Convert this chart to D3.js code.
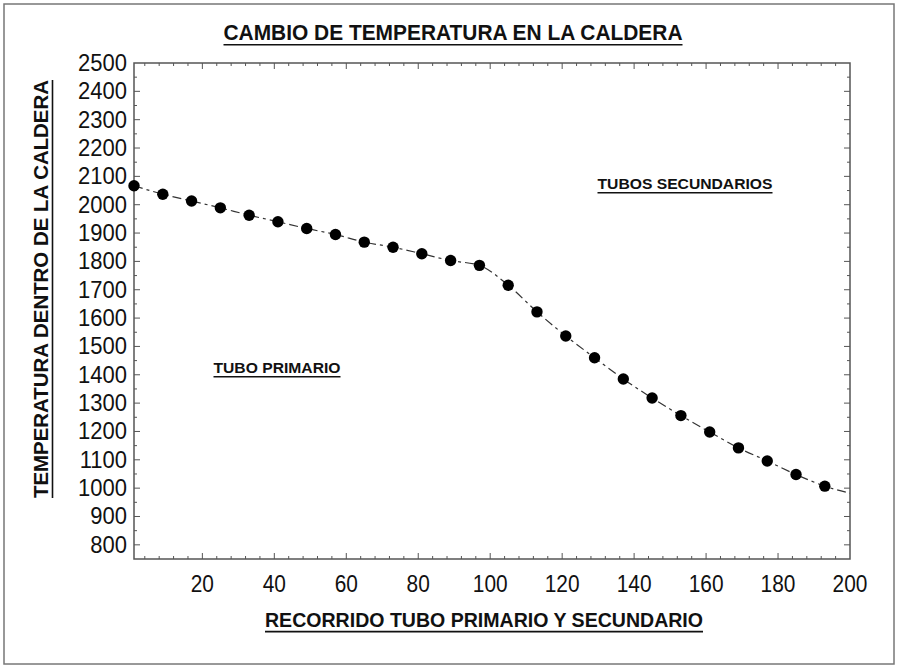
<!DOCTYPE html>
<html>
<head>
<meta charset="utf-8">
<script src="https://cdn.jsdelivr.net/npm/d3@7"></script>
<style>
  html, body { margin: 0; padding: 0; background: #fff; }
  svg { display: block; }
  text { font-family: "Liberation Sans", Arial, sans-serif; fill: #111; }
</style>
</head>
<body>
<svg id="chart" width="898" height="668"></svg>
<script>
// Recorrido (posición a lo largo del tubo) y temperatura medida
const recorrido = [1, 9, 17, 25, 33, 41, 49, 57, 65, 73, 81, 89, 97,
                   105, 113, 121, 129, 137, 145, 153, 161, 169, 177, 185, 193];
const temperatura = [2067, 2037, 2013, 1989, 1963, 1940, 1916, 1895, 1868, 1850, 1827, 1803, 1786,
                     1716, 1622, 1537, 1460, 1385, 1318, 1256, 1198, 1142, 1096, 1048, 1007];
// Extremo de la curva ajustada en el borde derecho
const curvaFinX = [200];
const curvaFinY = [982];

const xTicks = [20, 40, 60, 80, 100, 120, 140, 160, 180, 200];
const yTicks = [800, 900, 1000, 1100, 1200, 1300, 1400, 1500, 1600, 1700, 1800,
                1900, 2000, 2100, 2200, 2300, 2400, 2500];

const titulo = "CAMBIO DE TEMPERATURA EN LA CALDERA";
const tituloX = "RECORRIDO TUBO PRIMARIO Y SECUNDARIO";
const tituloY = "TEMPERATURA DENTRO DE LA CALDERA";
const notaPrimario = "TUBO PRIMARIO";
const notaSecundarios = "TUBOS SECUNDARIOS";

const svg = d3.select("#chart");
const W = 898, H = 668;
const plot = { left: 134, right: 850, top: 63, bottom: 559 };

// Marco exterior
svg.append("rect")
  .attr("x", 4).attr("y", 4).attr("width", W - 8).attr("height", H - 8)
  .attr("fill", "#fff").attr("stroke", "#777").attr("stroke-width", 1.5);

const x = d3.scaleLinear().domain([1, 200]).range([plot.left, plot.right]);
const y = d3.scaleLinear().domain([750, 2500]).range([plot.bottom, plot.top]);

// Marco del área de trazado
svg.append("rect")
  .attr("x", plot.left).attr("y", plot.top)
  .attr("width", plot.right - plot.left).attr("height", plot.bottom - plot.top)
  .attr("fill", "none").attr("stroke", "#555").attr("stroke-width", 1.5);

// Marcas hacia dentro en los cuatro lados
const xMinor = d3.range(4, 200, 4);
const yMinor = d3.range(800, 2500, 50);
const g = svg.append("g").attr("stroke", "#555").attr("stroke-width", 1);
xMinor.forEach(v => {
  const len = v % 20 === 0 ? 6 : 3;
  g.append("line").attr("x1", x(v)).attr("x2", x(v))
    .attr("y1", plot.bottom).attr("y2", plot.bottom - len);
  g.append("line").attr("x1", x(v)).attr("x2", x(v))
    .attr("y1", plot.top).attr("y2", plot.top + len);
});
yMinor.forEach(v => {
  const len = v % 100 === 0 ? 6 : 3;
  g.append("line").attr("y1", y(v)).attr("y2", y(v))
    .attr("x1", plot.left).attr("x2", plot.left + len);
  g.append("line").attr("y1", y(v)).attr("y2", y(v))
    .attr("x1", plot.right).attr("x2", plot.right - len);
});

// Etiquetas de los ejes (ligeramente estrechas y altas)
svg.append("g").selectAll("text").data(xTicks).join("text")
  .attr("transform", d => `translate(${x(d)},592) scale(0.95,1.08)`)
  .attr("text-anchor", "middle").attr("font-size", 22)
  .text(d => d);

svg.append("g").selectAll("text").data(yTicks).join("text")
  .attr("transform", d => `translate(${plot.left - 7},${y(d) + 8}) scale(1,1.08)`)
  .attr("text-anchor", "end").attr("font-size", 22)
  .text(d => d);

// Texto subrayado en negrita
function underlined(parent, txt, cx, cy, size, width, rotate) {
  const grp = parent.append("g")
    .attr("transform", `translate(${cx},${cy})` + (rotate ? ` rotate(${rotate})` : ""));
  grp.append("text")
    .attr("x", 0).attr("y", 0)
    .attr("text-anchor", "middle")
    .attr("font-size", size).attr("font-weight", "bold")
    .attr("textLength", width).attr("lengthAdjust", "spacingAndGlyphs")
    .text(txt);
  grp.append("line")
    .attr("x1", -width / 2).attr("x2", width / 2)
    .attr("y1", size * 0.15 + 1.5).attr("y2", size * 0.15 + 1.5)
    .attr("stroke", "#111").attr("stroke-width", 1.6);
  return grp;
}

underlined(svg, titulo, 453, 40, 22, 459);
underlined(svg, tituloX, 484, 627, 21, 438);
underlined(svg, tituloY, 48, 289, 20, 418, -90);
underlined(svg, notaSecundarios, 685, 189, 15, 175);
underlined(svg, notaPrimario, 277, 373, 15, 127);

// Curva discontinua a través de los puntos
const curva = recorrido.map((r, i) => [r, temperatura[i]])
  .concat(curvaFinX.map((r, i) => [r, curvaFinY[i]]));
const line = d3.line()
  .x(d => x(d[0])).y(d => y(d[1]))
  .curve(d3.curveMonotoneX);
svg.append("path")
  .datum(curva)
  .attr("d", line)
  .attr("fill", "none").attr("stroke", "#333").attr("stroke-width", 1.2)
  .attr("stroke-dasharray", "9,4,3,4");

// Puntos
svg.append("g").selectAll("circle")
  .data(recorrido.map((r, i) => [r, temperatura[i]]))
  .join("circle")
  .attr("cx", d => x(d[0])).attr("cy", d => y(d[1]))
  .attr("r", 5.7).attr("fill", "#000");
</script>
</body>
</html>
